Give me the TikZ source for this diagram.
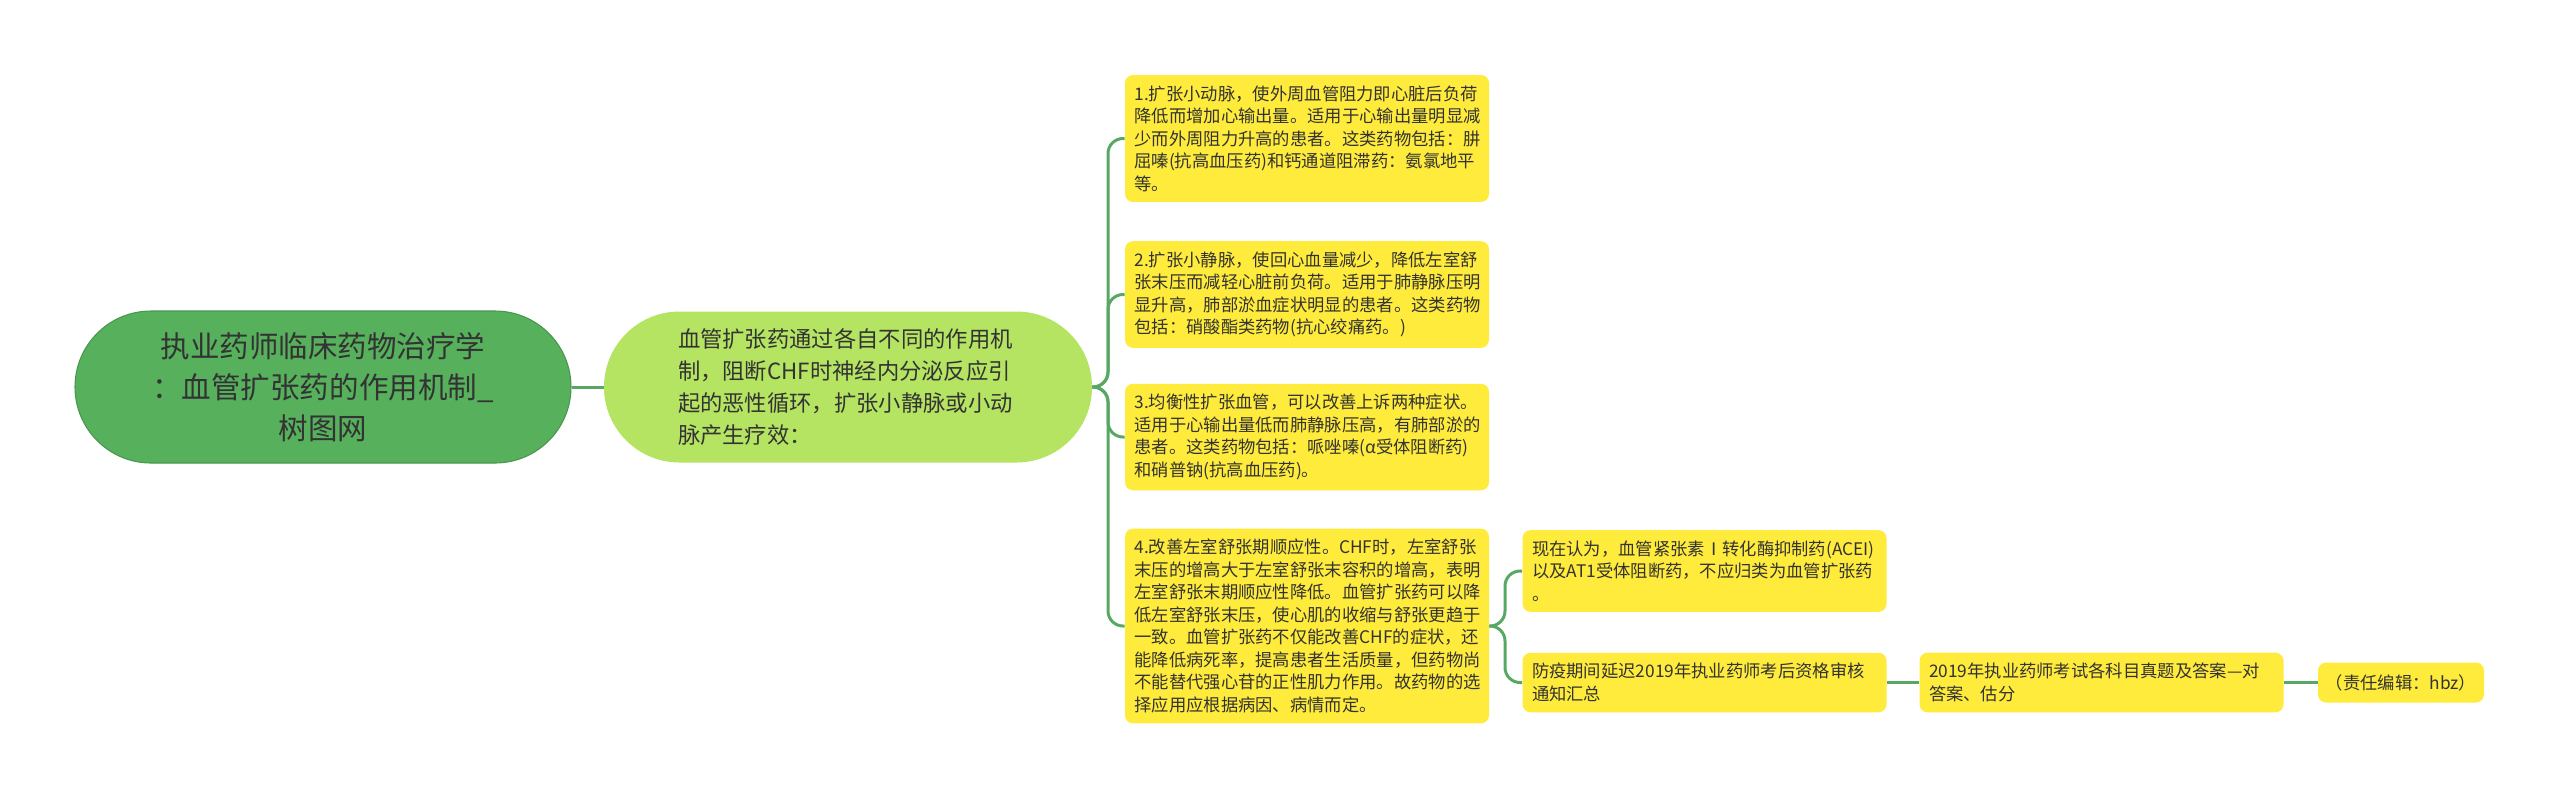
\documentclass[tikz,border=0pt]{standalone}
\usepackage{fontspec}
\setmainfont{Noto Sans CJK SC}
\usetikzlibrary{calc}

\definecolor{topicgreen}{RGB}{86,176,92}
\definecolor{branchgreen}{RGB}{181,228,99}
\definecolor{leafyellow}{RGB}{255,235,59}
\definecolor{linkgreen}{RGB}{88,168,100}
\definecolor{inkgray}{RGB}{51,51,51}

\begin{document}
\begin{tikzpicture}[
  topic/.style={fill=topicgreen,draw=topicgreen!85!black,line width=0.6pt,rounded corners=1.52cm,
    minimum width=9.92cm,minimum height=3.04cm,align=center,text=inkgray,
    font=\fontsize{16.8pt}{23.3pt}\selectfont},
  branch/.style={fill=branchgreen,rounded corners=1.51cm,minimum width=9.76cm,minimum height=3.02cm,
    text width=6.8cm,align=left,text=inkgray,font=\fontsize{12.7pt}{18.2pt}\selectfont},
  leaf/.style={fill=leafyellow,rounded corners=0.16cm,text width=6.9cm,inner xsep=0.19cm,
    inner ysep=0.21cm,align=left,text=inkgray,font=\fontsize{9.85pt}{12.8pt}\selectfont},
  note/.style={fill=leafyellow,rounded corners=0.16cm,minimum width=3.32cm,minimum height=0.8cm,
    text=inkgray,font=\fontsize{9.85pt}{12.8pt}\selectfont},
  link/.style={draw=linkgreen,line width=1.7pt,rounded corners=0.3cm}
]
\useasboundingbox (0,0) rectangle (51.2,-15.98);

\coordinate (t1) at (22.16,-7.74);
\coordinate (t2) at (30.1,-12.52);

\node[topic] (topic) at (6.46,-7.74) {执业药师临床药物治疗学\\：血管扩张药的作用机制\_\\树图网};
\node[branch] (mech) at (16.96,-7.74) {血管扩张药通过各自不同的作用机\\制，阻断CHF时神经内分泌反应引\\起的恶性循环，扩张小静脉或小动\\脉产生疗效：};

\node[leaf] (arteriole) at (26.14,-2.77) {1.扩张小动脉，使外周血管阻力即心脏后负荷\\降低而增加心输出量。适用于心输出量明显减\\少而外周阻力升高的患者。这类药物包括：肼\\屈嗪(抗高血压药)和钙通道阻滞药：氨氯地平\\等。};
\node[leaf] (venule) at (26.14,-5.89) {2.扩张小静脉，使回心血量减少，降低左室舒\\张末压而减轻心脏前负荷。适用于肺静脉压明\\显升高，肺部淤血症状明显的患者。这类药物\\包括：硝酸酯类药物(抗心绞痛药。)};
\node[leaf] (balanced) at (26.14,-8.74) {3.均衡性扩张血管，可以改善上诉两种症状。\\适用于心输出量低而肺静脉压高，有肺部淤的\\患者。这类药物包括：哌唑嗪(α受体阻断药)\\和硝普钠(抗高血压药)。};
\node[leaf] (compliance) at (26.14,-12.52) {4.改善左室舒张期顺应性。CHF时，左室舒张\\末压的增高大于左室舒张末容积的增高，表明\\左室舒张末期顺应性降低。血管扩张药可以降\\低左室舒张末压，使心肌的收缩与舒张更趋于\\一致。血管扩张药不仅能改善CHF的症状，还\\能降低病死率，提高患者生活质量，但药物尚\\不能替代强心苷的正性肌力作用。故药物的选\\择应用应根据病因、病情而定。};

\node[leaf] (acei) at (34.09,-11.42) {现在认为，血管紧张素Ⅰ转化酶抑制药(ACEI)\\以及AT1受体阻断药，不应归类为血管扩张药\\。};
\node[leaf] (notice) at (34.09,-13.65) {防疫期间延迟2019年执业药师考后资格审核\\通知汇总};
\node[leaf] (exam) at (42.03,-13.65) {2019年执业药师考试各科目真题及答案—对\\答案、估分};
\node[note] (editor) at (48.02,-13.65) {（责任编辑：hbz）};

% connectors
\draw[link] (topic.east) -- (mech.west);
\draw[link] (mech.east) -- (t1) |- (arteriole.west);
\draw[link] (mech.east) -- (t1) |- (venule.west);
\draw[link] (mech.east) -- (t1) |- (balanced.west);
\draw[link] (mech.east) -- (t1) |- (compliance.west);
\draw[link] (compliance.east) -- (t2) |- (acei.west);
\draw[link] (compliance.east) -- (t2) |- (notice.west);
\draw[link] (notice.east) -- (exam.west);
\draw[link] (exam.east) -- (editor.west);
\end{tikzpicture}
\end{document}
